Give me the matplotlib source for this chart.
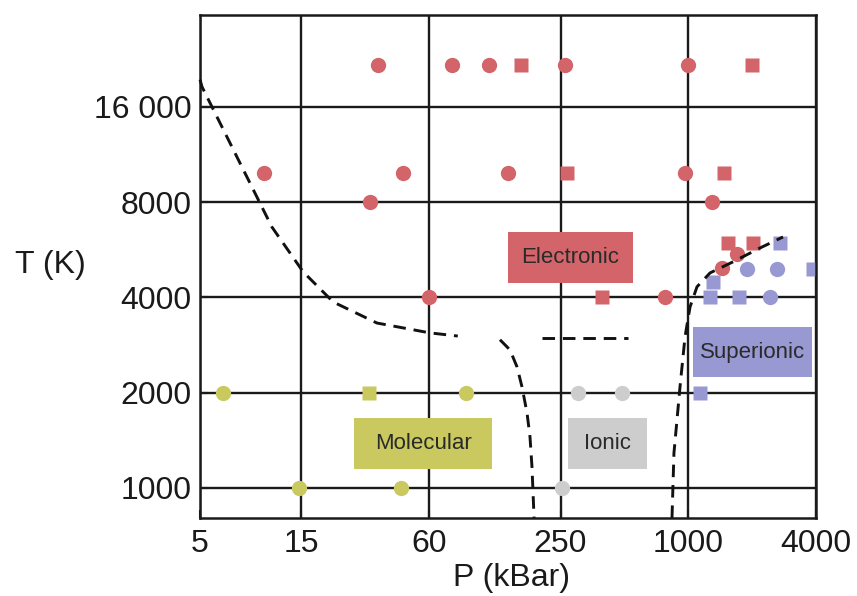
import matplotlib
matplotlib.use("Agg")
import matplotlib.pyplot as plt
from matplotlib.patches import Rectangle
from matplotlib.ticker import FixedLocator, FixedFormatter, NullLocator

plt.rcParams['font.family'] = ['Liberation Sans', 'DejaVu Sans']

# axis ticks
p_ticks = [5, 15, 60, 250, 1000, 4000]
p_labels = ["5", "15", "60", "250", "1000", "4000"]
t_ticks = [1000, 2000, 4000, 8000, 16000]
t_labels = ["1000", "2000", "4000", "8000", "16 000"]

# electronic phase (red)
elec_circ_p = [34.5, 77, 115, 262, 998, 10, 45, 141, 965, 31.6, 1294, 60, 776, 1698, 1442]
elec_circ_t = [21700, 21700, 21700, 21700, 21700, 9900, 9900, 9900, 9900, 8000, 8000, 4000, 4000, 5490, 4960]
elec_sq_p = [163, 1995, 268, 1472, 392, 1539, 2018]
elec_sq_t = [21700, 21700, 9900, 9900, 4000, 5950, 5950]

# superionic phase (blue)
sup_circ_p = [1892, 2618, 2427]
sup_circ_t = [4920, 4920, 4000]
sup_sq_p = [2706, 3870, 1308, 1265, 1734, 1135]
sup_sq_t = [5950, 4920, 4480, 4000, 4000, 2000]

# ionic phase (gray)
ion_p = [302, 487, 254]
ion_t = [2000, 2000, 1000]

# molecular phase (yellow-green)
mol_circ_p = [6.4, 89.6, 14.6, 44.3]
mol_circ_t = [2000, 2000, 1000, 1000]
mol_sq_p = [31.3]
mol_sq_t = [2000]

# phase boundaries (dashed)
b1_p = [5.0, 5.11, 7.47, 10.9, 15.3, 21.2, 34.1, 60.6, 82]
b1_t = [19500, 18500, 11100, 6680, 4820, 3870, 3320, 3090, 3020]
b2_p = [205, 520]
b2_t = [2980, 2980]
b3_p = [129.6, 144.5, 156, 164.6, 173.8, 179.5, 183.4, 187.6]
b3_t = [2940, 2730, 2410, 2085, 1726, 1449, 1165, 804]
b4_p = [838, 856, 914, 965, 1019, 1099, 1266, 1624, 2177, 2796]
b4_t = [804, 1290, 2085, 3000, 3730, 4320, 4780, 5180, 5730, 6210]

RED = "#D2646A"
BLUE = "#9898D2"
GRAY = "#CDCDCD"
OLIVE = "#C9C95F"

fig = plt.figure(figsize=(8.57, 5.96), dpi=100)
ax = fig.add_axes([0.2334, 0.1309, 0.7188, 0.8439])
ax.set_xscale("log")
ax.set_yscale("log")
ax.set_xlim(5, 4000)
ax.set_ylim(804, 31200)

ms_c, ms_s = 11, 10
ax.plot(sup_circ_p, sup_circ_t, "o", color=BLUE, ms=ms_c, mec="none", zorder=2)
ax.plot(sup_sq_p, sup_sq_t, "s", color=BLUE, ms=ms_s, mec="none", zorder=2)
ax.plot(elec_circ_p, elec_circ_t, "o", color=RED, ms=ms_c, mec="none", zorder=2)
ax.plot(elec_sq_p, elec_sq_t, "s", color=RED, ms=ms_s, mec="none", zorder=2)
ax.plot(ion_p, ion_t, "o", color=GRAY, ms=ms_c, mec="none", zorder=2)
ax.plot(mol_circ_p, mol_circ_t, "o", color=OLIVE, ms=ms_c, mec="none", zorder=2)
ax.plot(mol_sq_p, mol_sq_t, "s", color=OLIVE, ms=ms_s, mec="none", zorder=2)

for bp, bt in [(b1_p, b1_t), (b2_p, b2_t), (b3_p, b3_t), (b4_p, b4_t)]:
    ax.plot(bp, bt, color="#111111", lw=2.1, dashes=(4.3, 2.7), zorder=4, clip_on=False)

# phase label boxes (axes fractions)
boxes = [
    ("Electronic", 0.500, 0.467, 0.203, 0.102, RED),
    ("Molecular", 0.250, 0.097, 0.224, 0.102, OLIVE),
    ("Ionic", 0.597, 0.097, 0.129, 0.102, GRAY),
    ("Superionic", 0.800, 0.280, 0.194, 0.100, BLUE),
]
for name, x0, y0, w, h, col in boxes:
    ax.add_patch(Rectangle((x0, y0), w, h, transform=ax.transAxes,
                           facecolor=col, edgecolor="none", zorder=3))
    ax.text(x0 + w / 2, y0 + h / 2, name, transform=ax.transAxes,
            ha="center", va="center", fontsize=16, color="#2a2a2a", zorder=3.5)

ax.xaxis.set_major_locator(FixedLocator(p_ticks))
ax.xaxis.set_major_formatter(FixedFormatter(p_labels))
ax.xaxis.set_minor_locator(NullLocator())
ax.yaxis.set_major_locator(FixedLocator(t_ticks))
ax.yaxis.set_major_formatter(FixedFormatter(t_labels))
ax.yaxis.set_minor_locator(NullLocator())

ax.grid(True, color="#1a1a1a", lw=1.7)
ax.set_axisbelow(True)
ax.tick_params(direction="in", length=6, width=1.5, labelsize=23, colors="#1a1a1a")
ax.tick_params(axis="x", pad=8)
ax.tick_params(axis="y", pad=6)
for s in ax.spines.values():
    s.set_linewidth(1.8)
    s.set_color("#1a1a1a")

ax.set_xlabel("P (kBar)", fontsize=23, color="#1a1a1a", va="center")
ax.xaxis.set_label_coords(0.506, -0.119)
ax.set_ylabel("T (K)", fontsize=23, color="#1a1a1a", rotation=0, ha="center", va="center")
ax.yaxis.set_label_coords(-0.2435, 0.503)

fig.savefig("out.png", dpi=100)
